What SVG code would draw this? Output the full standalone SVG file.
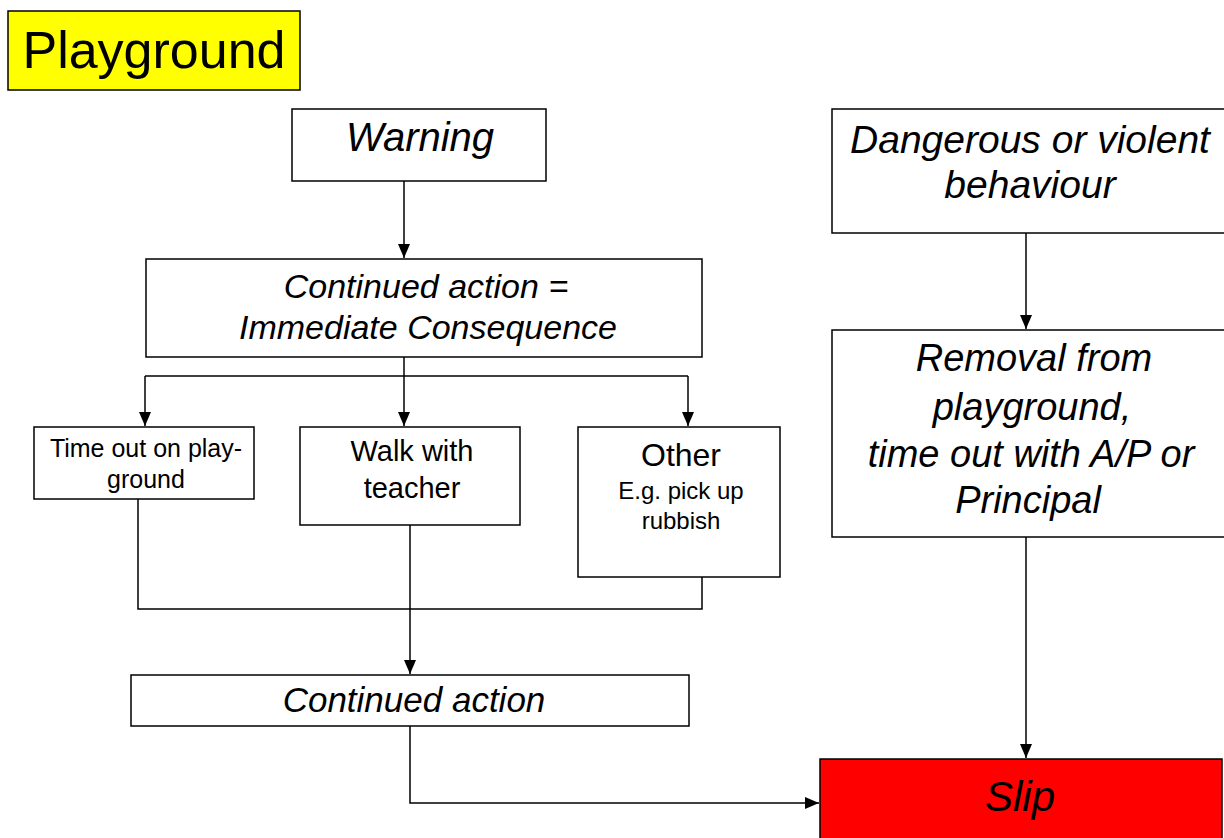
<svg xmlns="http://www.w3.org/2000/svg" width="1224" height="838" viewBox="0 0 1224 838">
<defs>
<marker id="arr" viewBox="0 0 14 12" refX="14" refY="6" markerWidth="14" markerHeight="12" markerUnits="userSpaceOnUse" orient="auto">
<path d="M0,0 L14,6 L0,12 z" fill="#000"/>
</marker>
</defs>
<style>
rect{fill:#fff;stroke:#000;stroke-width:1.5}
text{font-family:"Liberation Sans",Arial,sans-serif;fill:#000;text-anchor:middle}
.i{font-style:italic}
.c{fill:none;stroke:#000;stroke-width:1.5}
</style>
<rect width="1224" height="838" style="fill:#fff;stroke:none"/>
<g id="playground"><rect x="8" y="11" width="292" height="79" style="fill:#ffff00"/><text x="154" y="68" font-size="52">Playground</text></g>
<g id="warning"><rect x="292" y="109" width="254" height="72"/><text class="i" x="420" y="151" font-size="40">Warning</text></g>
<g id="continued1"><rect x="146" y="259" width="556" height="98"/><text class="i" x="426" y="298" font-size="34">Continued action =</text><text class="i" x="428" y="339" font-size="34">Immediate Consequence</text></g>
<g id="timeout"><rect x="34" y="427" width="220" height="72"/><text x="146" y="457" font-size="25">Time out on play-</text><text x="146" y="488" font-size="25">ground</text></g>
<g id="walk"><rect x="300" y="427" width="220" height="98"/><text x="412" y="461" font-size="29">Walk with</text><text x="412" y="498" font-size="29">teacher</text></g>
<g id="other"><rect x="578" y="427" width="202" height="150"/><text x="681" y="466" font-size="32">Other</text><text x="681" y="499" font-size="24">E.g. pick up</text><text x="681" y="529" font-size="24">rubbish</text></g>
<g id="dangerous"><rect x="832" y="109" width="400" height="124"/><text class="i" x="1030" y="153" font-size="39">Dangerous or violent</text><text class="i" x="1030" y="198" font-size="39">behaviour</text></g>
<g id="removal"><rect x="832" y="330" width="400" height="207"/><text class="i" x="1034" y="371" font-size="38">Removal from</text><text class="i" x="1032" y="420" font-size="38">playground,</text><text class="i" x="1031" y="467" font-size="38">time out with A/P or</text><text class="i" x="1028" y="513" font-size="38">Principal</text></g>
<g id="continued2"><rect x="131" y="675" width="558" height="51"/><text class="i" x="414" y="712" font-size="35">Continued action</text></g>
<g id="slip"><rect x="820" y="759" width="402" height="90" style="fill:#ff0000"/><text class="i" x="1020" y="811" font-size="42">Slip</text></g>
<g id="connectors">
<path class="c" d="M404,181 V258" marker-end="url(#arr)"/>
<path class="c" d="M404,357 V426" marker-end="url(#arr)"/>
<path class="c" d="M145,376 H688"/>
<path class="c" d="M145,376 V426" marker-end="url(#arr)"/>
<path class="c" d="M688,376 V426" marker-end="url(#arr)"/>
<path class="c" d="M138,499 V609 H702 V577"/>
<path class="c" d="M410,525 V674" marker-end="url(#arr)"/>
<path class="c" d="M410,726 V803 H819" marker-end="url(#arr)"/>
<path class="c" d="M1026,233 V329" marker-end="url(#arr)"/>
<path class="c" d="M1026,537 V758" marker-end="url(#arr)"/>
</g>
</svg>
